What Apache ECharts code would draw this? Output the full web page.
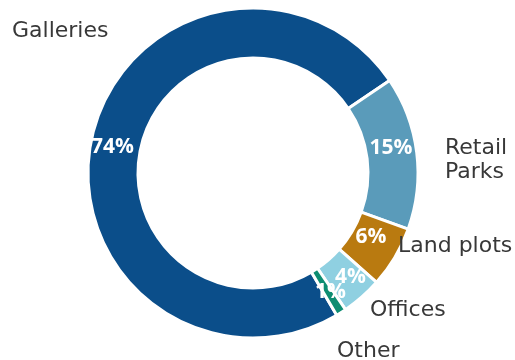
<!DOCTYPE html>
<html>
<head>
<meta charset="utf-8">
<script src="https://cdn.jsdelivr.net/npm/echarts@6/dist/echarts.min.js"></script>
<style>
  html, body { margin: 0; padding: 0; background: #ffffff; }
  #chart { width: 515px; height: 360px; }
</style>
</head>
<body>
<div id="chart"></div>
<script>
// Portfolio split by asset type (share, %)
const categories = ['Galleries', 'Retail\nParks', 'Land plots', 'Offices', 'Other'];
const shares = [74, 15, 6, 4, 1];
const sliceColors = ['#0b4e8a', '#5a9bba', '#b97a10', '#8fd0e1', '#0e8d72'];

// Where each category name sits (left edge, vertical middle)
const nameAnchors = [[12, 31], [445, 160], [398, 246], [370, 310], [337, 351]];
// Small nudges for the percentage labels inside the ring
const valueNudges = [[-1, 5], [-4, -7], [-5, -9], [3, -3], [1, -2]];

const data = categories.map((name, i) => ({
  name: name,
  value: shares[i],
  itemStyle: { color: sliceColors[i] }
}));

const chart = echarts.init(document.getElementById('chart'), null, { renderer: 'canvas' });

const ring = {
  center: [253, 173],
  radius: [115, 165],
  startAngle: -59.5,
  clockwise: true
};

chart.setOption({
  animation: false,
  series: [
    {
      type: 'pie',
      center: ring.center,
      radius: ring.radius,
      startAngle: ring.startAngle,
      clockwise: ring.clockwise,
      data: data,
      itemStyle: { borderColor: '#ffffff', borderWidth: 3 },
      label: {
        show: true,
        position: 'inside',
        formatter: p => p.value + '%',
        color: '#ffffff',
        fontFamily: 'Open Sans',
        fontWeight: 'bold',
        fontSize: 21
      },
      labelLine: { show: false },
      labelLayout: params => {
        const n = valueNudges[params.dataIndex];
        return { dx: n[0], dy: n[1] };
      },
      emphasis: { disabled: true }
    },
    {
      type: 'pie',
      silent: true,
      center: ring.center,
      radius: ring.radius,
      startAngle: ring.startAngle,
      clockwise: ring.clockwise,
      data: data.map(d => ({ name: d.name, value: d.value })),
      itemStyle: { color: 'rgba(0,0,0,0)' },
      label: {
        show: true,
        position: 'outside',
        formatter: p => p.name,
        color: '#383838',
        fontFamily: 'DejaVu Sans',
        fontSize: 22,
        lineHeight: 24,
        overflow: 'none',
        width: 200,
        align: 'left'
      },
      labelLine: { show: false },
      labelLayout: params => {
        const a = nameAnchors[params.dataIndex];
        return { x: a[0], y: a[1], align: 'left', verticalAlign: 'middle' };
      },
      emphasis: { disabled: true }
    }
  ]
});
</script>
</body>
</html>
